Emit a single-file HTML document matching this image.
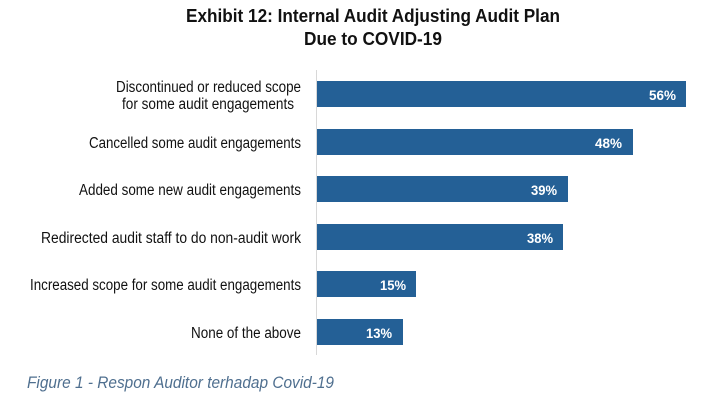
<!DOCTYPE html>
<html><head><meta charset="utf-8"><style>body{margin:0;background:#fff}svg{display:block}</style></head>
<body>
<svg width="720" height="400" xmlns="http://www.w3.org/2000/svg" font-family="Liberation Sans, sans-serif">
<rect width="720" height="400" fill="#fff"/>
<text x="373" y="22" text-anchor="middle" font-size="18" font-weight="bold" fill="#111" textLength="374" lengthAdjust="spacingAndGlyphs">Exhibit 12: Internal Audit Adjusting Audit Plan</text>
<text x="373" y="45" text-anchor="middle" font-size="18" font-weight="bold" fill="#111" textLength="138" lengthAdjust="spacingAndGlyphs">Due to COVID-19</text>
<line x1="316.5" y1="70" x2="316.5" y2="355" stroke="#d8d8d8" stroke-width="1"/>
<g fill="#246096">
<rect x="317" y="81" width="369" height="26"/>
<rect x="317" y="129" width="316" height="26"/>
<rect x="317" y="176" width="251" height="26"/>
<rect x="317" y="224" width="246" height="26"/>
<rect x="317" y="271" width="99" height="26"/>
<rect x="317" y="319" width="86" height="26"/>
</g>
<g fill="#fff" font-size="14" font-weight="bold" text-anchor="end">
<text x="676" y="100" textLength="27" lengthAdjust="spacingAndGlyphs">56%</text>
<text x="622" y="148" textLength="27" lengthAdjust="spacingAndGlyphs">48%</text>
<text x="557" y="195" textLength="26" lengthAdjust="spacingAndGlyphs">39%</text>
<text x="553" y="243" textLength="26" lengthAdjust="spacingAndGlyphs">38%</text>
<text x="406" y="290" textLength="26" lengthAdjust="spacingAndGlyphs">15%</text>
<text x="392" y="338" textLength="26" lengthAdjust="spacingAndGlyphs">13%</text>
</g>
<g fill="#111" font-size="15.5" text-anchor="end">
<text x="301" y="92" textLength="185" lengthAdjust="spacingAndGlyphs">Discontinued or reduced scope</text>
<text x="294" y="109" textLength="172" lengthAdjust="spacingAndGlyphs">for some audit engagements</text>
<text x="301" y="148" textLength="212" lengthAdjust="spacingAndGlyphs">Cancelled some audit engagements</text>
<text x="301" y="195" textLength="222" lengthAdjust="spacingAndGlyphs">Added some new audit engagements</text>
<text x="301" y="243" textLength="260" lengthAdjust="spacingAndGlyphs">Redirected audit staff to do non-audit work</text>
<text x="301" y="290" textLength="271" lengthAdjust="spacingAndGlyphs">Increased scope for some audit engagements</text>
<text x="301" y="338" textLength="110" lengthAdjust="spacingAndGlyphs">None of the above</text>
</g>
<text x="27" y="388" font-size="16.5" font-style="italic" fill="#4f6f8f" textLength="307" lengthAdjust="spacingAndGlyphs">Figure 1 - Respon Auditor terhadap Covid-19</text>
</svg>
</body></html>
